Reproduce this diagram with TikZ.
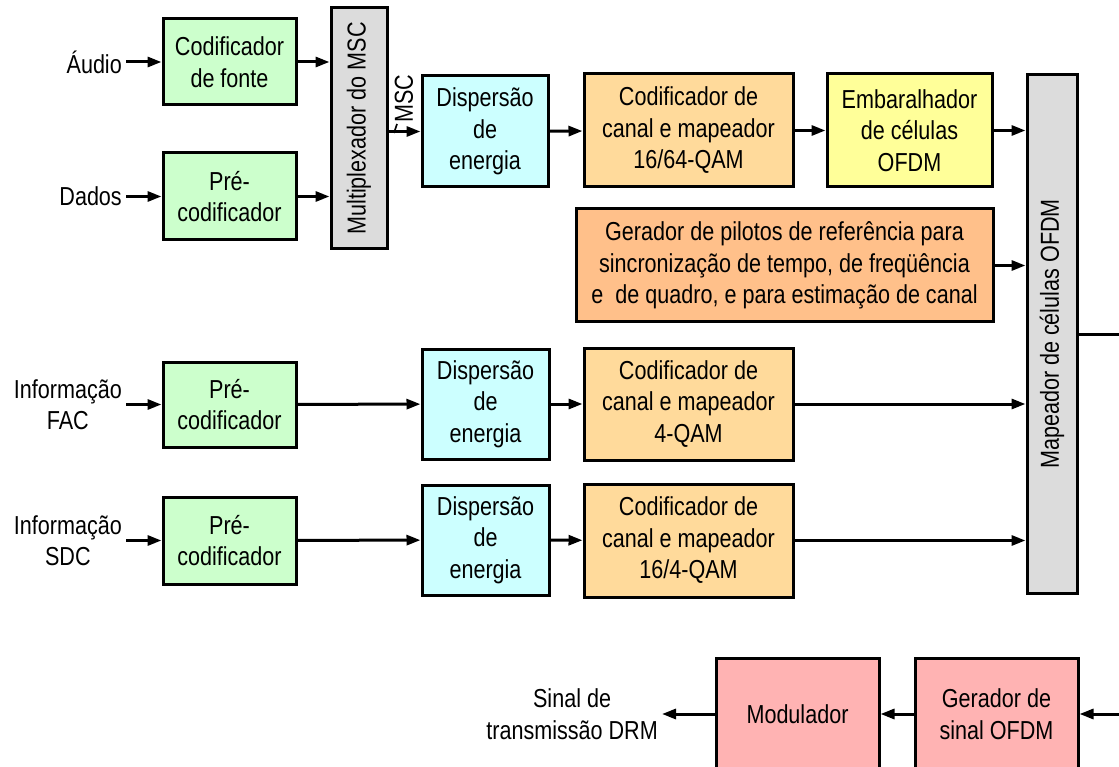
\documentclass[tikz,border=0pt]{standalone}
\usepackage{fontspec}
\setmainfont{Liberation Sans}[FakeStretch=0.83]
\usetikzlibrary{arrows.meta}

\definecolor{cGreen}{HTML}{CCFFCC}
\definecolor{cCyan}{HTML}{CCFFFF}
\definecolor{cOrange}{HTML}{FFDA9B}
\definecolor{cPilot}{HTML}{FFC08A}
\definecolor{cYellow}{HTML}{FFFF99}
\definecolor{cGray}{HTML}{DCDCDC}
\definecolor{cPink}{HTML}{FFB3B3}

\tikzset{
  txt/.style={font=\fontsize{26}{31.5}\selectfont, align=center},
  blk/.style={txt, draw=black, line width=3pt, inner sep=0pt},
  sz/.style 2 args={minimum width=#1pt, minimum height=#2pt},
  lbl/.style={txt, inner sep=4pt},
  arr/.style={line width=3pt, -{Triangle[length=14pt,width=10pt]}},
}

\begin{document}
\begin{tikzpicture}[x=1pt, y=-1pt]
\useasboundingbox (0,0) rectangle (1119,767);

% MSC path
\node[blk, fill=cGreen, sz={133}{86}] (cf) at (229.5,62) {Codificador\\de fonte};
\node[blk, fill=cGreen, sz={133}{87}] (pre1) at (229.5,196.5) {Pré-\\codificador};
\node[blk, fill=cGray, sz={241}{56}, rotate=90] (mux) at (359,128.5) {Multiplexador do MSC};
\node[blk, fill=cCyan, sz={126}{111}] (disp1) at (485,131.5) {Dispersão\\de\\energia};
\node[blk, fill=cOrange, sz={209}{113}] (cod1) at (688.5,130.5) {Codificador de\\canal e mapeador\\16/64-QAM};
\node[blk, fill=cYellow, sz={165}{113}] (emb) at (909.5,130.5) {Embaralhador\\de células\\OFDM};

% cell mapper (rotated: its north side faces left, its south side right)
\node[blk, fill=cGray, sz={518}{50}, rotate=90] (map) at (1052,334) {Mapeador de células OFDM};

% pilot generator
\node[blk, fill=cPilot, sz={417}{113}] (pil) at (784.5,265.5) {Gerador de pilotos de referência para\\sincronização de tempo, de freqüência\\e\ \ de quadro, e para estimação de canal};

% FAC path
\node[blk, fill=cGreen, sz={133}{85}] (pre2) at (229.5,404.5) {Pré-\\codificador};
\node[blk, fill=cCyan, sz={127}{110}] (disp2) at (485.5,404) {Dispersão\\de\\energia};
\node[blk, fill=cOrange, sz={209}{112}] (cod2) at (688.5,404) {Codificador de\\canal e mapeador\\4-QAM};

% SDC path
\node[blk, fill=cGreen, sz={133}{87}] (pre3) at (229.5,540.5) {Pré-\\codificador};
\node[blk, fill=cCyan, sz={127}{110}] (disp3) at (485.5,540) {Dispersão\\de\\energia};
\node[blk, fill=cOrange, sz={209}{113}] (cod3) at (688.5,540.5) {Codificador de\\canal e mapeador\\16/4-QAM};

% output stage
\node[blk, fill=cPink, sz={163}{112}] (mod) at (797.5,714) {Modulador};
\node[blk, fill=cPink, sz={163}{112}] (gen) at (996.5,714) {Gerador de\\sinal OFDM};

% input / output labels
\node[lbl, anchor=east] (audio) at (126,62) {Áudio};
\node[lbl, anchor=east] (dados) at (126,196.5) {Dados};
\node[lbl, anchor=east] (fac) at (126,404.5) {Informação\\FAC};
\node[lbl, anchor=east] (sdc) at (126,540.5) {Informação\\SDC};
\node[lbl, anchor=east] (drm) at (662,714) {Sinal de\\transmissão DRM};
\node[txt, rotate=90, inner sep=0pt] (msc) at (404,99) {MSC};

% connectors
\draw[arr] (audio) -- (cf);
\draw[arr] (dados) -- (pre1);
\draw[arr] (cf.east) -- (cf.east -| mux.north);
\draw[arr] (pre1.east) -- (pre1.east -| mux.north);
\draw[arr] (mux.south |- disp1.west) -- (disp1.west);
\draw[line width=1.6pt] (394,133) -- (397,124);
\draw[arr] (disp1) -- (cod1);
\draw[arr] (cod1) -- (emb);
\draw[arr] (emb.east) -- (emb.east -| map.north);
\draw[arr] (pil.east) -- (pil.east -| map.north);

\draw[arr] (fac) -- (pre2);
\draw[arr] (pre2) -- (disp2);
\draw[arr] (disp2) -- (cod2);
\draw[arr] (cod2.east) -- (cod2.east -| map.north);

\draw[arr] (sdc) -- (pre3);
\draw[arr] (pre3) -- (disp3);
\draw[arr] (disp3) -- (cod3);
\draw[arr] (cod3.east) -- (cod3.east -| map.north);

\draw[arr] (map.south) -- ++(90,0) |- (gen.east);
\draw[arr] (gen) -- (mod);
\draw[arr] (mod) -- (drm);
\end{tikzpicture}
\end{document}
